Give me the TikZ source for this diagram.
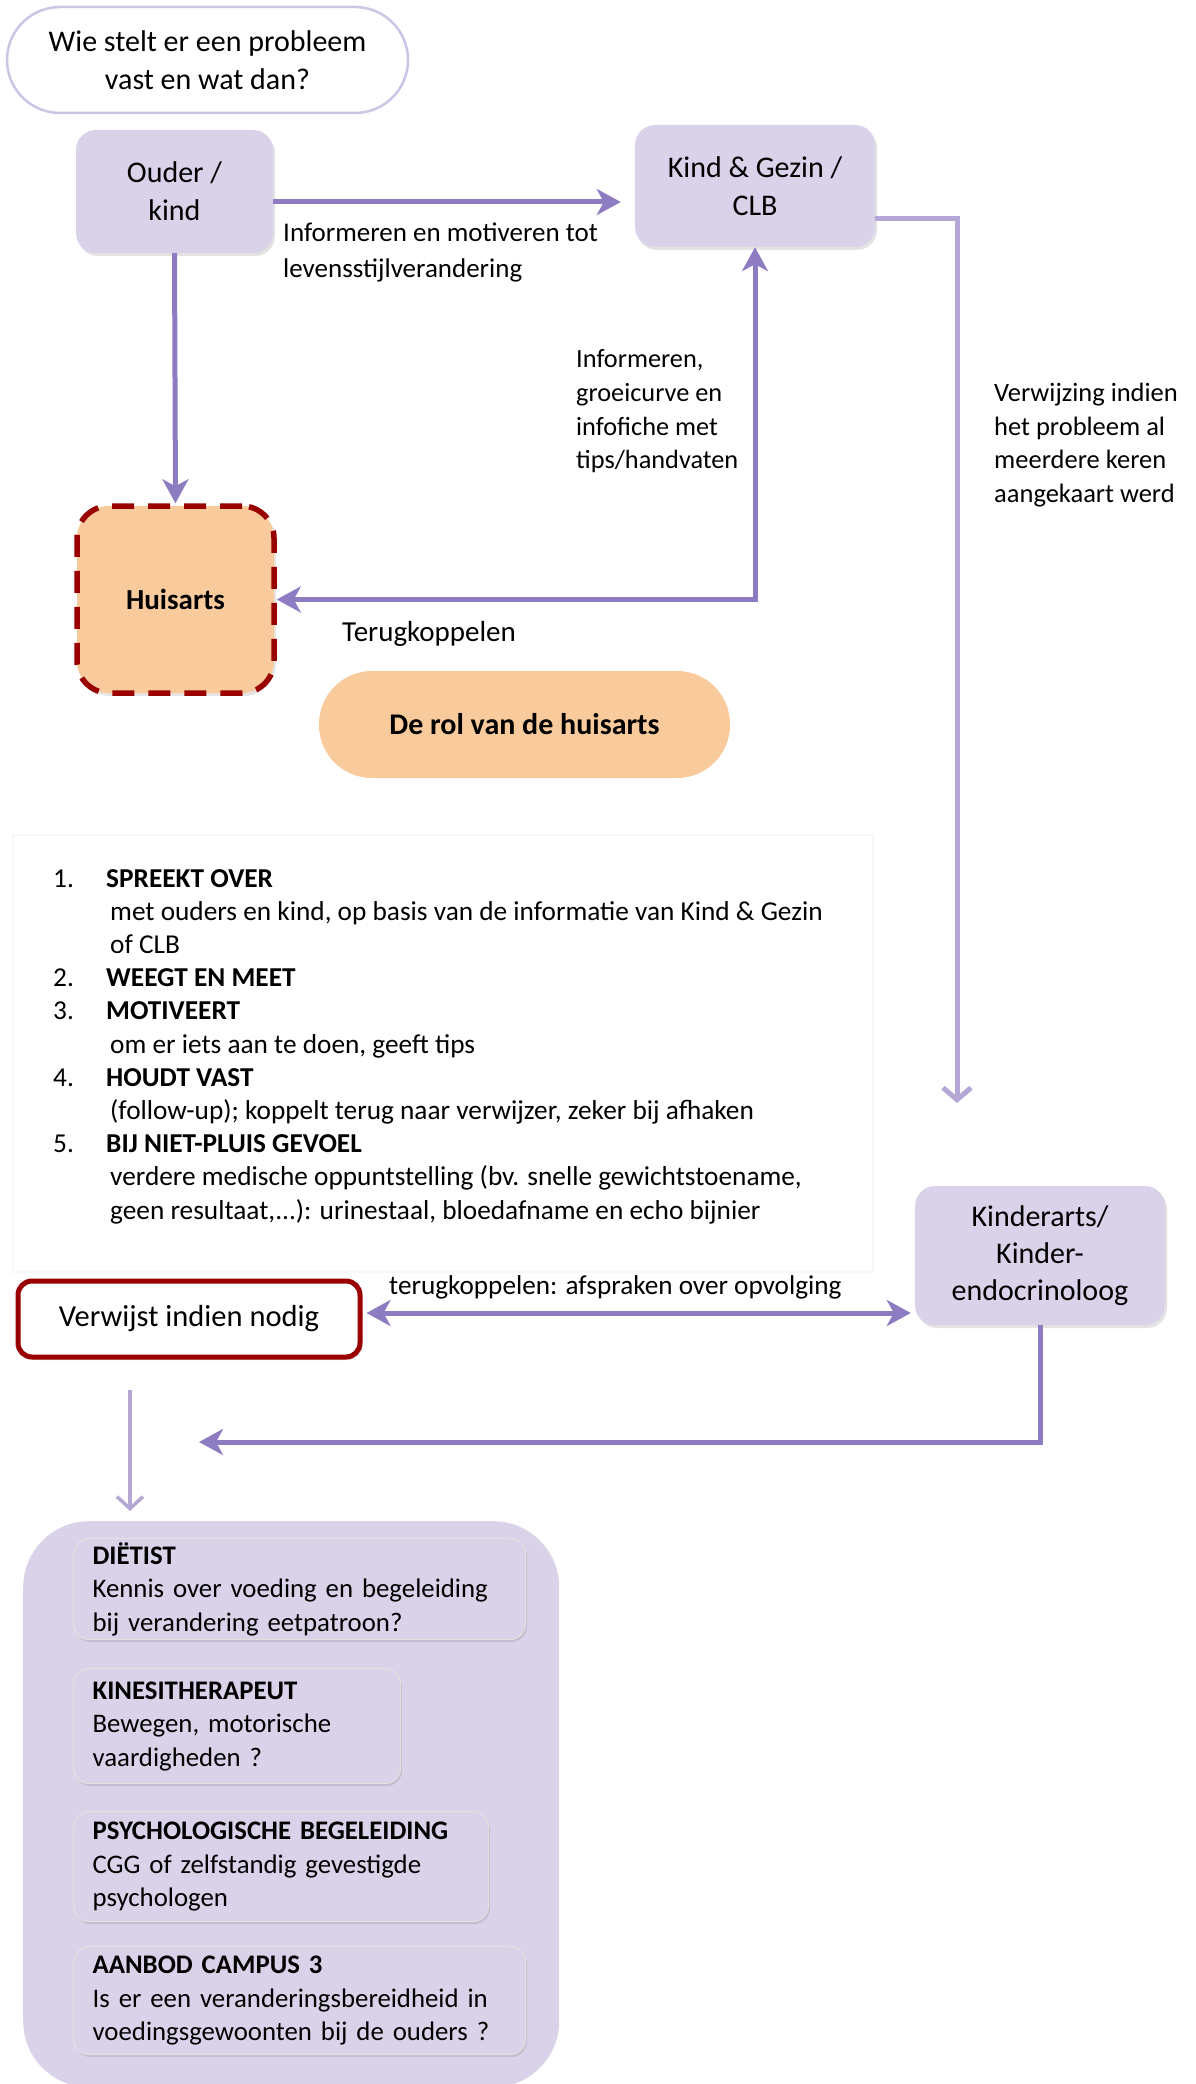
\documentclass[tikz,border=0pt]{standalone}
\usepackage{fontspec}
\setmainfont{Carlito}
\usetikzlibrary{arrows.meta,shadows,calc}
\definecolor{lav}{RGB}{217,210,233}
\definecolor{lavline}{RGB}{205,196,230}
\definecolor{arrowc}{RGB}{142,124,195}
\definecolor{arrowl}{RGB}{180,167,214}
\definecolor{peach}{RGB}{249,203,156}
\definecolor{dred}{RGB}{153,0,0}
\begin{document}
\begin{tikzpicture}[x=1pt,y=-1pt,
  bigf/.style={font=\fontsize{30}{38}\selectfont},
  smallf/.style={font=\fontsize{27.3}{33.2}\selectfont},
  lbox/.style={fill=lav, rounded corners=20pt, align=center, bigf, inner sep=0pt,
     drop shadow={opacity=0.22, shadow xshift=2pt, shadow yshift=-3pt}},
  ibox/.style={fill=lav, draw=black!12, line width=1.2pt, rounded corners=16pt, align=left,
     font=\fontsize{26.8}{33.5}\selectfont, inner xsep=19pt, inner ysep=0pt, anchor=north west,
     drop shadow={opacity=0.25, shadow xshift=1.5pt, shadow yshift=-2.5pt}},
  lbl/.style={align=left, anchor=west, inner sep=0pt},
  arr/.style={draw=arrowc, line width=5pt, -{Stealth[length=24pt,width=26pt,inset=7pt]}},
  darr/.style={draw=arrowc, line width=5pt, {Stealth[length=24pt,width=26pt,inset=7pt]}-{Stealth[length=24pt,width=26pt,inset=7pt]}},
  larr/.style={draw=arrowl, line width=5pt, -{Straight Barb[length=12pt,width=28pt]}},
  tarr/.style={draw=arrowl, line width=3.5pt, -{Straight Barb[length=12pt,width=26pt]}}
]
\useasboundingbox (0,0) rectangle (1195,2084);
\fill[white] (0,0) rectangle (1195,2084);

% faint frame around the list
\draw[black!3, line width=1.2pt] (13,835) rectangle (873,1272);

% top question
\node[draw=lavline, line width=2.5pt, rounded corners=53pt, minimum width=401pt, minimum height=106pt,
  align=center, bigf, inner sep=0pt] (q) at (207.5,60) {Wie stelt er een probleem\\vast en wat dan?};

% main boxes
\node[lbox, minimum width=197pt, minimum height=123pt] (ouder) at (174.5,191.5) {Ouder /\\kind};
\node[lbox, minimum width=240pt, minimum height=122pt] (kind) at (755,186) {Kind \& Gezin /\\CLB};
\node[draw=dred, line width=5.5pt, dash pattern=on 22pt off 14pt, fill=peach, rounded corners=32pt,
  minimum width=197pt, minimum height=187pt, inner sep=0pt, font=\fontsize{29}{36}\selectfont\bfseries,
  drop shadow={opacity=0.2, shadow xshift=2pt, shadow yshift=-3pt}] (huis) at (175.5,599.5) {Huisarts};
\node[fill=peach, rounded corners=53pt, minimum width=411pt, minimum height=107pt, inner sep=0pt,
  font=\fontsize{30}{36}\selectfont\bfseries] (rol) at (524.5,724.5) {De rol van de huisarts};
\node[lbox, minimum width=250pt, minimum height=139pt, font=\fontsize{30}{37}\selectfont] (kinder) at (1040,1255.5) {Kinderarts/\\Kinder-\\endocrinoloog};
\node[draw=dred, line width=5pt, fill=white, rounded corners=14pt, minimum width=342pt, minimum height=76pt,
  inner sep=0pt, font=\fontsize{30.5}{38}\selectfont, drop shadow={opacity=0.25, shadow xshift=2pt, shadow yshift=-3pt}] (verw) at (189,1319) {Verwijst indien nodig};

% labels
\node[lbl, font=\fontsize{27}{36}\selectfont] (l1) at (283,252) {Informeren en motiveren tot\\levensstijlverandering};
\node[lbl, font=\fontsize{26.3}{33.7}\selectfont] (l2) at (576,411.5) {Informeren,\\groeicurve en\\infofiche met\\tips/handvaten};
\node[lbl, font=\fontsize{26.5}{33.7}\selectfont] (l3) at (994,445) {Verwijzing indien\\het probleem al\\meerdere keren\\aangekaart werd};
\node[lbl, font=\fontsize{29}{36}\selectfont] (l4) at (342,634) {Terugkoppelen};
\node[lbl, font=\fontsize{27.2}{33}\selectfont] (l5) at (389,1287) {terugkoppelen: afspraken over opvolging};

% list
\node[smallf, anchor=base west, inner sep=0pt] (list) at (53,887) {%
\begin{tabular}[t]{@{}p{53pt}@{}l@{}}
1. & \textbf{SPREEKT OVER}\\
   & \hspace{4pt}met ouders en kind, op basis van de informatie van Kind \& Gezin\\
   & \hspace{4pt}of CLB\\
2. & \textbf{WEEGT EN MEET}\\
3. & \textbf{MOTIVEERT}\\
   & \hspace{4pt}om er iets aan te doen, geeft tips\\
4. & \textbf{HOUDT VAST}\\
   & \hspace{4pt}(follow-up); koppelt terug naar verwijzer, zeker bij afhaken\\
5. & \textbf{BIJ NIET-PLUIS GEVOEL}\\
   & \hspace{4pt}verdere medische oppuntstelling (bv. snelle gewichtstoename,\\
   & \hspace{4pt}geen resultaat,...): urinestaal, bloedafname en echo bijnier
\end{tabular}};

% container with referrals
\node[fill=lav, rounded corners=66pt, minimum width=536pt, minimum height=566pt, anchor=north west, inner sep=0pt] (cont) at (23,1521) {};
\node[ibox, text width=414pt, minimum height=101pt] (diet) at (73,1538) {\textbf{DIËTIST}\\Kennis over voeding en begeleiding\\bij verandering eetpatroon?};
\node[ibox, text width=289pt, minimum height=115pt] (kine) at (73,1668) {\textbf{KINESITHERAPEUT}\\Bewegen, motorische\\vaardigheden ?};
\node[ibox, text width=377pt, minimum height=110pt] (psy) at (73,1811) {\textbf{PSYCHOLOGISCHE BEGELEIDING}\\CGG of zelfstandig gevestigde\\psychologen};
\node[ibox, text width=414pt, minimum height=108pt] (camp) at (73,1946) {\textbf{AANBOD CAMPUS 3}\\Is er een veranderingsbereidheid in\\voedingsgewoonten bij de ouders ?};

% connectors
\draw[arr, shorten >=14pt] ([yshift=-10.5pt]ouder.east) coordinate (oa) -- (oa -| kind.west);
\draw[arr] (ouder.south) -- (huis.north);
\draw[darr] (kind.south) |- (huis.east);
\coordinate (vk) at (957,1103);
\draw[larr] ([yshift=-33pt]kind.east) -| (vk);
\draw[darr, shorten <=4pt, shorten >=4pt] ([yshift=6pt]verw.east) coordinate (va) -- (va -| kinder.west);
\coordinate (kl) at (199,1442);
\draw[arr] (kinder.south) |- (kl);
\coordinate (ta) at (130,1390);
\coordinate (tb) at (130,1511);
\draw[tarr] (ta) -- (tb);
\end{tikzpicture}
\end{document}
